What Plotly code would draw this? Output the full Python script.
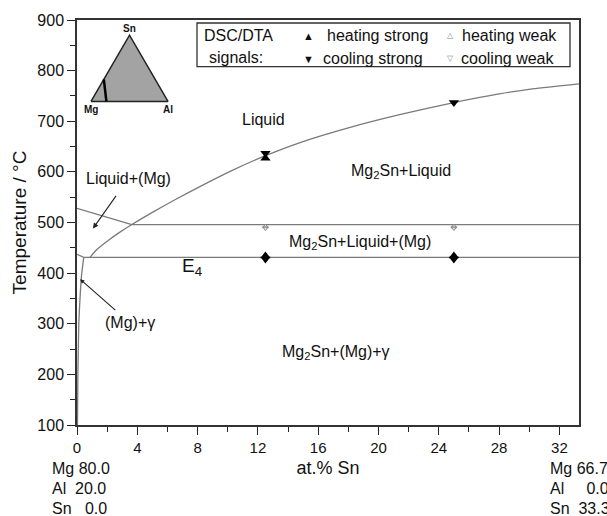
import plotly.graph_objects as go
import math

# ---------------- data ----------------
# Mg2Sn liquidus
liq_mg2sn_x = [0.86, 1.3, 2.0, 2.8, 3.64, 5.0, 6.5, 8.15, 10.3, 12.5, 14.8, 18.0, 21.4, 25.0, 28.0, 30.2, 33.3]
liq_mg2sn_T = [431, 446, 463, 480, 496, 520, 545, 571, 603, 632, 658, 687, 713, 737, 754, 764, 774]
# (Mg) liquidus
liq_mg_x = [0.0, 3.64]
liq_mg_T = [528, 496]
# three-phase line L + Mg2Sn + (Mg)
tri_upper_x = [3.64, 33.3]
tri_upper_T = [496, 496]
# E4 eutectic line
e4_x = [0.45, 33.3]
e4_T = [431, 431]
# (Mg) solidus
sol_mg_x = [0.0, 0.45]
sol_mg_T = [437, 431]
# (Mg) solvus
solvus_x = [0.45, 0.3, 0.2, 0.12, 0.06, 0.03]
solvus_T = [431, 395, 350, 300, 200, 100]

# DSC/DTA signals
heat_strong_x = [12.5, 12.5, 25.0]
heat_strong_T = [627, 434, 434]
cool_strong_x = [12.5, 25.0, 12.5, 25.0]
cool_strong_T = [637, 737, 428, 428]
heat_weak_x = [12.5, 25.0]
heat_weak_T = [492, 492]
cool_weak_x = [12.5, 25.0]
cool_weak_T = [489, 489]

# axis ticks
x_ticks = [0, 4, 8, 12, 16, 20, 24, 28, 32]
y_ticks = [100, 200, 300, 400, 500, 600, 700, 800, 900]

# inset composition triangle (at.% Mg, Al, Sn)
tri_Mg = [100, 0, 0, 100]
tri_Al = [0, 100, 0, 0]
tri_Sn = [0, 0, 100, 0]
sect_Mg = [80.0, 66.7]
sect_Al = [20.0, 0.0]
sect_Sn = [0.0, 33.3]


def tern(al, sn):
    return [(a + s / 2) / 100 for a, s in zip(al, sn)], [s * math.sqrt(3) / 2 / 100 for s in sn]


FONT = "Liberation Sans, Arial, sans-serif"
LINE = "#7a7a7a"

fig = go.Figure()


def phase(x, y, shape="linear"):
    fig.add_trace(go.Scatter(x=x, y=y, mode="lines", line=dict(color=LINE, width=1.3, shape=shape,
                                                               smoothing=0.7),
                             showlegend=False, hoverinfo="skip"))


phase(liq_mg2sn_x, liq_mg2sn_T, "spline")
phase(liq_mg_x, liq_mg_T)
phase(tri_upper_x, tri_upper_T)
phase(e4_x, e4_T)
phase(sol_mg_x, sol_mg_T)
phase(solvus_x, solvus_T, "spline")

fig.add_trace(go.Scatter(x=heat_weak_x, y=heat_weak_T, mode="markers", name="heating weak",
                         marker=dict(symbol="triangle-up-open", size=5, color="#888", line=dict(width=1)),
                         showlegend=False))
fig.add_trace(go.Scatter(x=cool_weak_x, y=cool_weak_T, mode="markers", name="cooling weak",
                         marker=dict(symbol="triangle-down-open", size=5, color="#888", line=dict(width=1)),
                         showlegend=False))
fig.add_trace(go.Scatter(x=heat_strong_x, y=heat_strong_T, mode="markers", name="heating strong",
                         marker=dict(symbol="triangle-up", size=9, color="black"), showlegend=False))
fig.add_trace(go.Scatter(x=cool_strong_x, y=cool_strong_T, mode="markers", name="cooling strong",
                         marker=dict(symbol="triangle-down", size=9, color="black"), showlegend=False))

# inset triangle
tx, ty = tern(tri_Al, tri_Sn)
fig.add_trace(go.Scatter(x=tx, y=ty, xaxis="x2", yaxis="y2", mode="lines", fill="toself",
                         fillcolor="#a3a3a3", line=dict(color="#222", width=1.5),
                         showlegend=False, hoverinfo="skip"))
sx, sy = tern(sect_Al, sect_Sn)
fig.add_trace(go.Scatter(x=sx, y=sy, xaxis="x2", yaxis="y2", mode="lines",
                         line=dict(color="black", width=2.5), showlegend=False, hoverinfo="skip"))

ann = []


def txt(x, y, s, size=16, **kw):
    d = dict(x=x, y=y, text=s, showarrow=False, font=dict(family=FONT, size=size, color="#111"))
    d.update(kw)
    ann.append(d)


sub = lambda s: f"<sub>{s}</sub>"
txt(12.4, 703, "Liquid")
txt(21.5, 600, "Mg" + sub("2") + "Sn+Liquid")
txt(18.75, 460, "Mg" + sub("2") + "Sn+Liquid+(Mg)")
txt(7.6, 412, "E" + sub("4"), size=19)
txt(17.2, 243, "Mg" + sub("2") + "Sn+(Mg)+γ")
# arrowed labels
ann.append(dict(x=1.06, y=488, ax=3.4, ay=587, axref="x", ayref="y", xref="x", yref="y",
                text="Liquid+(Mg)", showarrow=True, arrowhead=2, arrowsize=1, arrowwidth=1.1,
                arrowcolor="#222", standoff=0, startstandoff=9,
                font=dict(family=FONT, size=16, color="#111")))
ann.append(dict(x=0.2, y=388, ax=3.5, ay=302, axref="x", ayref="y", xref="x", yref="y",
                text="(Mg)+γ", showarrow=True, arrowhead=2, arrowsize=0.8, arrowwidth=1.1,
                arrowcolor="#222", standoff=0, startstandoff=4, xanchor="center",
                font=dict(family=FONT, size=16, color="#111")))

# inset labels
for lab, (lx, ly), ys in [("Sn", (0.5, 0.866), 7), ("Mg", (0.0, 0.0), -8), ("Al", (1.0, 0.0), -8)]:
    ann.append(dict(x=lx, y=ly, xref="x2", yref="y2", text="<b>" + lab + "</b>", showarrow=False,
                    yshift=ys, font=dict(family=FONT, size=10, color="#111")))


# legend (manual box)
def ptxt(x, y, s, size=16, xanchor="left", color="#111"):
    ann.append(dict(x=x, y=y, xref="paper", yref="paper", text=s, showarrow=False, xanchor=xanchor,
                    yanchor="middle", font=dict(family=FONT, size=size, color=color)))


W, H, L, T = 502, 408, 77, 17
px = lambda p: (p - L) / W
py = lambda p: (T + H - p) / H
ptxt(px(202), py(33), "DSC/DTA")
ptxt(px(207), py(55), "signals:")
ptxt(px(301), py(33), "▲", size=11)
ptxt(px(301), py(56), "▼", size=11)
ptxt(px(325), py(33), "heating strong")
ptxt(px(321), py(56), "cooling strong")
ptxt(px(445), py(33), "△", size=8, color="#888")
ptxt(px(445), py(56), "▽", size=8, color="#888")
ptxt(px(460), py(33), "heating weak")
ptxt(px(459), py(56), "cooling weak")

# composition labels below axis
for i, s in enumerate(["Mg 80.0", "Al  20.0", "Sn   0.0"]):
    ptxt(px(50), py(469 + 20 * i), s.replace(" ", "&nbsp;"))
for i, s in enumerate(["Mg 66.7", "Al     0.0", "Sn  33.3"]):
    ptxt(px(548), py(469 + 20 * i), s.replace(" ", "&nbsp;"))

fig.update_layout(
    width=607, height=516,
    margin=dict(l=L, r=607 - L - W, t=T, b=516 - T - H),
    paper_bgcolor="white", plot_bgcolor="white",
    font=dict(family=FONT, color="#111"),
    annotations=ann,
    shapes=[dict(type="rect", xref="paper", yref="paper", x0=px(197), x1=px(570), y0=py(64), y1=py(20),
                 line=dict(color="#333", width=1.3), fillcolor="rgba(0,0,0,0)")],
    xaxis=dict(range=[0, 33.3], tickvals=x_ticks, ticks="outside", ticklen=8, tickwidth=1.3,
               tickcolor="#222", showline=True, linecolor="#333", linewidth=1.5, mirror=True,
               showgrid=False, zeroline=False, tickfont=dict(size=15),
               minor=dict(dtick=2, ticks="outside", ticklen=5, tickwidth=1.2, tickcolor="#222"),
               title=dict(text="at.% Sn", font=dict(size=18), standoff=7)),
    yaxis=dict(range=[100, 900], tickvals=y_ticks, ticks="outside", ticklen=8, tickwidth=1.3,
               tickcolor="#222", showline=True, linecolor="#333", linewidth=1.5, mirror=True,
               showgrid=False, zeroline=False, tickfont=dict(size=16),
               minor=dict(dtick=50, ticks="outside", ticklen=5, tickwidth=1.2, tickcolor="#222"),
               title=dict(text="Temperature / °C", font=dict(size=19), standoff=6)),
    xaxis2=dict(domain=[px(85), px(175)], range=[-0.078, 1.091], visible=False, anchor="y2"),
    yaxis2=dict(domain=[py(110), py(25)], range=[-0.143, 0.961], visible=False, anchor="x2"),
)

fig.write_html("out.html")
